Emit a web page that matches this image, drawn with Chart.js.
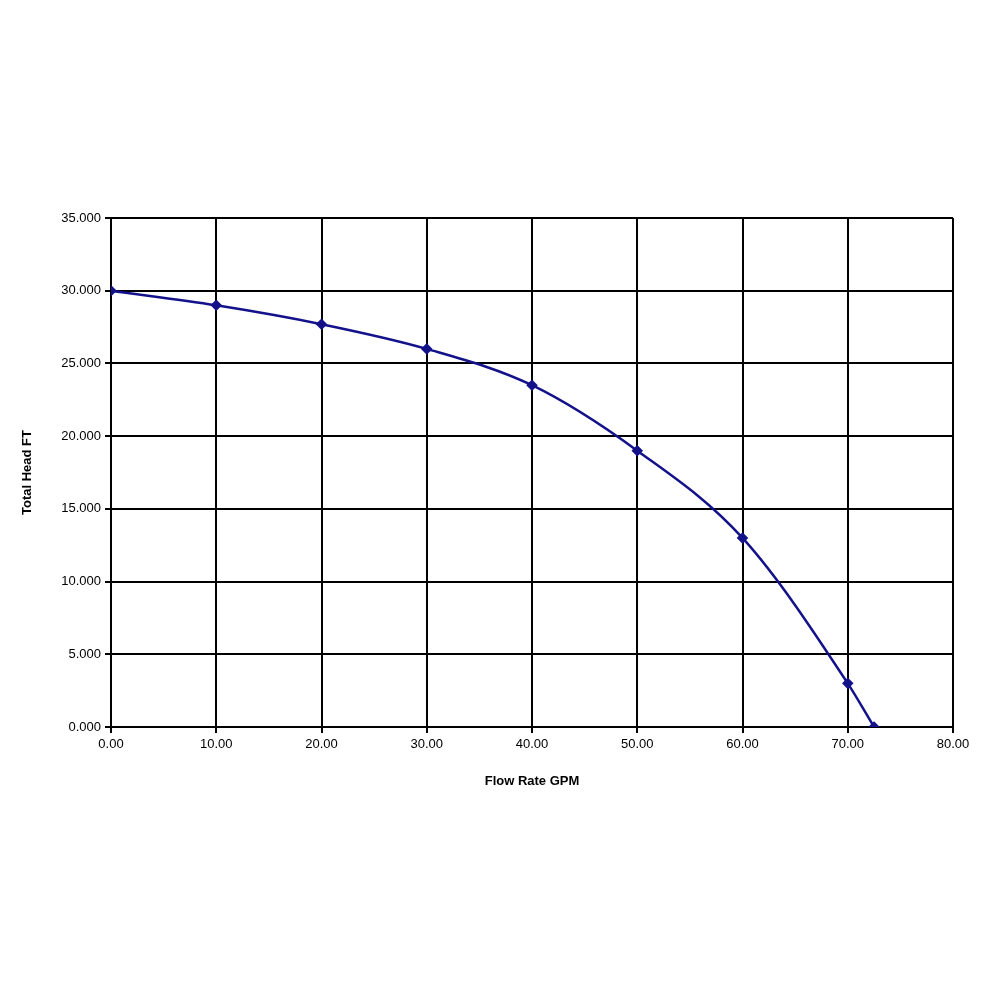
<!DOCTYPE html>
<html>
<head>
<meta charset="utf-8">
<script src="https://cdn.jsdelivr.net/npm/chart.js@4"></script>
<style>
  html, body { margin: 0; padding: 0; background: #fff; }
  #wrap { width: 1000px; height: 1000px; }
</style>
</head>
<body>
<div id="wrap"><canvas id="pump-curve" width="1000" height="1000"></canvas></div>
<script>
// Pump performance curve: flow rate vs total head
const flowGpm = [0, 10, 20, 30, 40, 50, 60, 70, 72.5];
const headFt = [30, 29, 27.7, 26, 23.5, 19, 13, 3, 0];

const points = flowGpm.map((x, i) => ({ x: x, y: headFt[i] }));

const ctx = document.getElementById('pump-curve').getContext('2d');
new Chart(ctx, {
    type: 'line',
    data: {
        datasets: [{
            label: 'Total Head',
            data: points,
            borderColor: '#14128a',
            backgroundColor: '#14128a',
            borderWidth: 2.5,
            pointStyle: 'rectRot',
            pointRadius: 4,
            cubicInterpolationMode: 'monotone',
            fill: false
        }]
    },
    options: {
        responsive: false,
        animation: false,
        layout: { padding: { left: 16, right: 47, top: 218, bottom: 207 } },
        plugins: { legend: { display: false }, tooltip: { enabled: false } },
        scales: {
            x: {
                type: 'linear',
                min: 0,
                max: 80,
                afterFit: (s) => { s.height = 66; },
                grid: { color: '#000', lineWidth: 2, tickLength: 6, tickColor: '#000' },
                border: { color: '#000', width: 2 },
                ticks: {
                    stepSize: 10,
                    color: '#000',
                    font: { family: 'Liberation Sans', size: 13 },
                    padding: 4,
                    callback: (v) => v.toFixed(2)
                },
                title: {
                    display: true,
                    text: 'Flow Rate GPM',
                    color: '#000',
                    font: { family: 'Liberation Sans', size: 13, weight: 'bold' }
                }
            },
            y: {
                min: 0,
                max: 35,
                afterFit: (s) => { s.width = 95; },
                grid: { color: '#000', lineWidth: 2, tickLength: 6, tickColor: '#000' },
                border: { color: '#000', width: 2 },
                ticks: {
                    stepSize: 5,
                    color: '#000',
                    font: { family: 'Liberation Sans', size: 13 },
                    padding: 4,
                    callback: (v) => v.toFixed(3)
                },
                title: {
                    display: true,
                    text: 'Total Head FT',
                    color: '#000',
                    font: { family: 'Liberation Sans', size: 13, weight: 'bold' }
                }
            }
        }
    }
});
</script>
</body>
</html>
